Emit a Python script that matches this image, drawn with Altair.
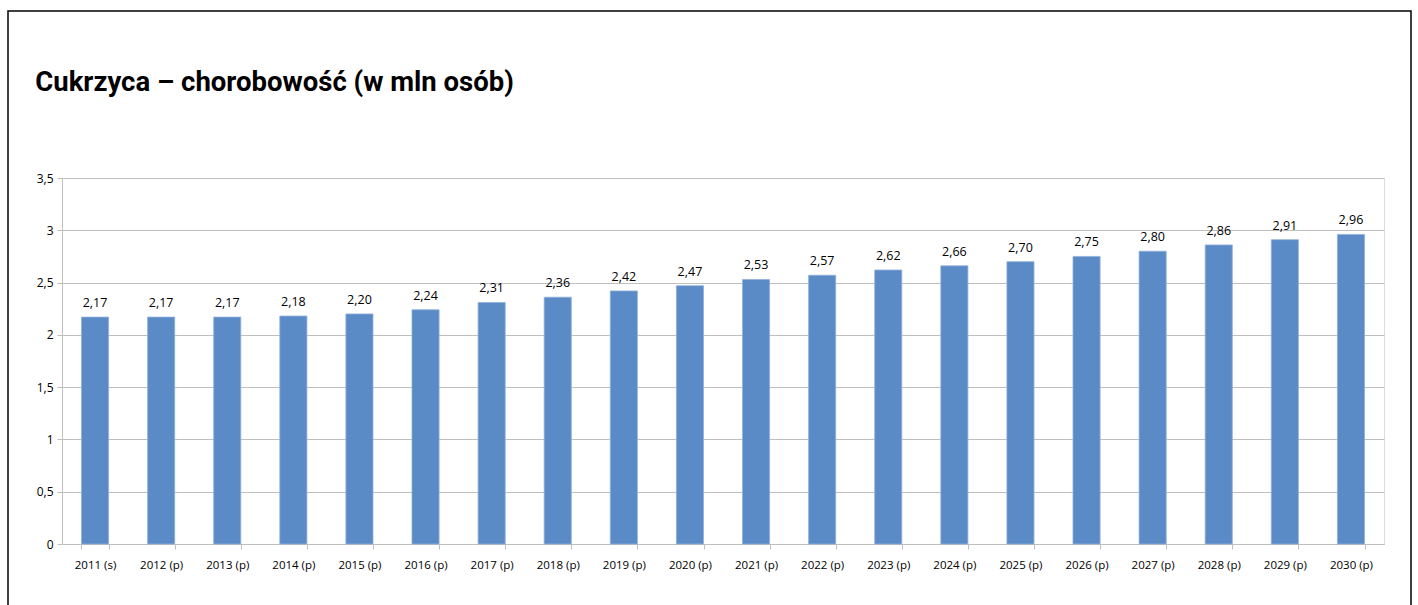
import altair as alt
import pandas as pd

years = ["2011 (s)", "2012 (p)", "2013 (p)", "2014 (p)", "2015 (p)", "2016 (p)",
         "2017 (p)", "2018 (p)", "2019 (p)", "2020 (p)", "2021 (p)", "2022 (p)",
         "2023 (p)", "2024 (p)", "2025 (p)", "2026 (p)", "2027 (p)", "2028 (p)",
         "2029 (p)", "2030 (p)"]
values = [2.17, 2.17, 2.17, 2.18, 2.20, 2.24, 2.31, 2.36, 2.42, 2.47,
          2.53, 2.57, 2.62, 2.66, 2.70, 2.75, 2.80, 2.86, 2.91, 2.96]
y_ticks = [0, 0.5, 1, 1.5, 2, 2.5, 3, 3.5]

df = pd.DataFrame({"rok": years, "v": values})

W, H = 1322, 366
FONT = "Open Sans"

base = alt.Chart(df)

bars = base.mark_bar(color="#5B8BC6", stroke="#8FB0DA", strokeWidth=0.8).encode(
    x=alt.X("rok:N", sort=years, title=None,
            scale=alt.Scale(paddingInner=0.59, paddingOuter=0.295),
            axis=alt.Axis(labelAngle=0, tickBand="extent", labelPadding=10,
                          tickSize=5, tickColor="#BFBFBF", domainColor="#BFBFBF",
                          labelFont=FONT, labelFontSize=11.5, labelColor="#000000",
                          grid=False)),
    y=alt.Y("v:Q", title=None,
            scale=alt.Scale(domain=[0, 3.5], nice=False),
            axis=alt.Axis(values=y_ticks, labelExpr="replace(format(datum.value, '~g'), '.', ',')",
                          gridColor="#BFBFBF", domainColor="#BFBFBF", tickColor="#BFBFBF",
                          tickSize=5, labelPadding=4,
                          labelFont=FONT, labelFontSize=12, labelColor="#000000")),
)

labels = base.transform_calculate(
    lab="replace(format(datum.v, '.2f'), '.', ',')"
).mark_text(dy=-7, baseline="bottom", font=FONT, fontSize=12.5, color="#000000").encode(
    x=alt.X("rok:N", sort=years),
    y=alt.Y("v:Q"),
    text="lab:N",
)

frame = alt.Chart(pd.DataFrame({"a": [0]})).mark_rect(
    fill=None, stroke="#000000", strokeWidth=1.5, clip=False
).encode(
    x=alt.value(-54), x2=alt.value(1349), y=alt.value(-167), y2=alt.value(460)
)

chart = alt.layer(bars, labels, frame).properties(
    width=W, height=H,
    title=alt.Title("Cukrzyca – chorobowość (w mln osób)", anchor="start",
                    font="Roboto", fontSize=27.5,
                    fontWeight="bold", color="#000000", dx=28, offset=-86),
    padding={"left": 62, "top": 178, "right": 34, "bottom": 61},
    autosize=alt.AutoSizeParams(type="none"),
).configure_view(stroke=None).configure(background="white")

chart.save("out.html", embed_options={"renderer": "svg", "actions": False})
